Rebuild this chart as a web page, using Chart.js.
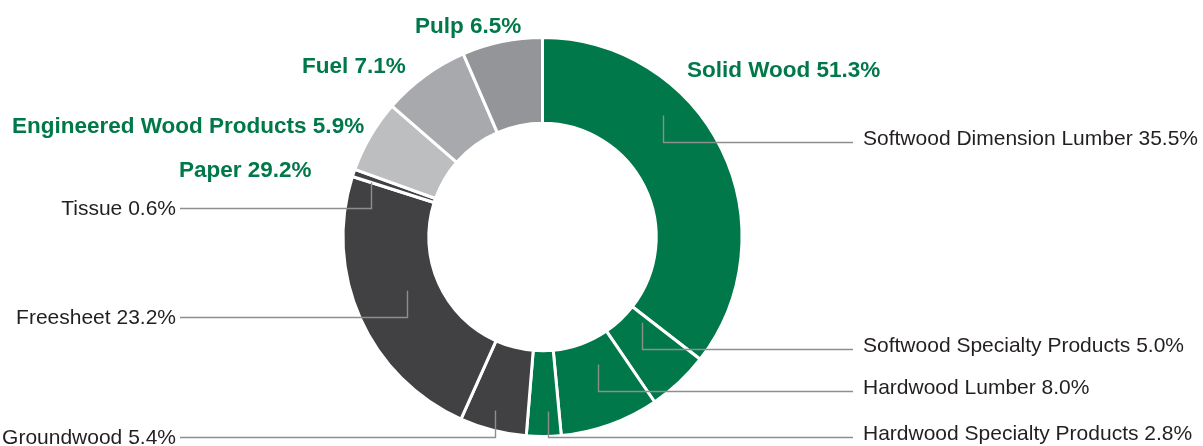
<!DOCTYPE html>
<html>
<head>
<meta charset="utf-8">
<script src="https://cdn.jsdelivr.net/npm/chart.js@4/dist/chart.umd.min.js"></script>
<style>
  html, body { margin: 0; padding: 0; background: #fff; }
  #wrap { position: relative; width: 1203px; height: 446px; }
</style>
</head>
<body>
<div id="wrap"><canvas id="chart"></canvas></div>
<script>
'use strict';

var categories = ['Softwood Dimension Lumber', 'Softwood Specialty Products', 'Hardwood Lumber',
  'Hardwood Specialty Products', 'Groundwood', 'Freesheet', 'Tissue',
  'Engineered Wood Products', 'Fuel', 'Pulp'];
var shares = [35.5, 5.0, 8.0, 2.8, 5.4, 23.2, 0.6, 5.9, 7.1, 6.5];
var groupNames = ['Solid Wood', 'Paper', 'Engineered Wood Products', 'Fuel', 'Pulp'];
var groupMembers = [[0, 1, 2, 3], [4, 5, 6], [7], [8], [9]];

var green = '#00784A';
var sliceColors = [green, green, green, green, '#414042', '#414042', '#414042', '#BCBEC0', '#A7A9AC', '#939598'];

// leader placement: slice index, side, position along slice (0..1), radius in px
var leaders = [
  [0, 'right', 0.35, 171],
  [1, 'right', 0.17, 131],
  [2, 'right', 0.375, 139],
  [3, 'right', 0.37, 174.5],
  [4, 'left', 0.55, 180],
  [5, 'left', 0.53, 146],
  [6, 'left', 0.0, 180]
];
// group label spots (text left x, baseline y), same order as groupNames
var groupSpots = [[687, 77], [179, 177], [12, 133], [302, 73], [415, 33]];

function pct(v) { return v.toFixed(1) + '%'; }

var labelPlugin = {
  id: 'leaderLabels',
  afterDatasetsDraw: function(chart) {
    var ctx = chart.ctx;
    var arcs = chart.getDatasetMeta(0).data;
    ctx.save();
    leaders.forEach(function(l) {
      var arc = arcs[l[0]];
      var p = arc.getProps(['x', 'y', 'startAngle', 'endAngle'], true);
      var a = p.startAngle + l[2] * (p.endAngle - p.startAngle);
      var ax = Math.round(p.x + l[3] * Math.cos(a)) + 0.5;
      var ay = p.y + l[3] * Math.sin(a);
      var ly = Math.round(ay + 26) + 0.5;
      var ex = l[1] === 'right' ? 853 : 180;
      ctx.strokeStyle = '#8E8E8E';
      ctx.lineWidth = 1.4;
      ctx.beginPath();
      ctx.moveTo(ax, ay);
      ctx.lineTo(ax, ly);
      ctx.lineTo(ex, ly);
      ctx.stroke();
      ctx.fillStyle = '#231F20';
      ctx.font = '21px "Liberation Sans", Arial, sans-serif';
      ctx.textBaseline = 'middle';
      var txt = categories[l[0]] + ' ' + pct(shares[l[0]]);
      if (l[1] === 'right') {
        ctx.textAlign = 'left';
        ctx.fillText(txt, 863, ly - 3.5);
      } else {
        ctx.textAlign = 'right';
        ctx.fillText(txt, 176, ly + 1);
      }
    });
    ctx.fillStyle = green;
    ctx.font = 'bold 22.5px "Liberation Sans", Arial, sans-serif';
    ctx.textAlign = 'left';
    ctx.textBaseline = 'alphabetic';
    groupNames.forEach(function(name, g) {
      var total = 0;
      groupMembers[g].forEach(function(i) { total += shares[i]; });
      ctx.fillText(name + ' ' + pct(total), groupSpots[g][0], groupSpots[g][1]);
    });
    ctx.restore();
  }
};

new Chart(document.getElementById('chart'), {
  type: 'doughnut',
  data: {
    labels: categories,
    datasets: [{
      data: shares,
      backgroundColor: sliceColors,
      borderColor: '#ffffff',
      borderWidth: 3,
      radius: 199.5,
      cutout: '57%'
    }]
  },
  options: {
    responsive: true,
    maintainAspectRatio: false,
    animation: false,
    layout: { padding: { left: 342, right: 460, top: 37, bottom: 9 } },
    plugins: {
      legend: { display: false },
      tooltip: { enabled: false }
    }
  },
  plugins: [labelPlugin]
});
</script>
</body>
</html>
